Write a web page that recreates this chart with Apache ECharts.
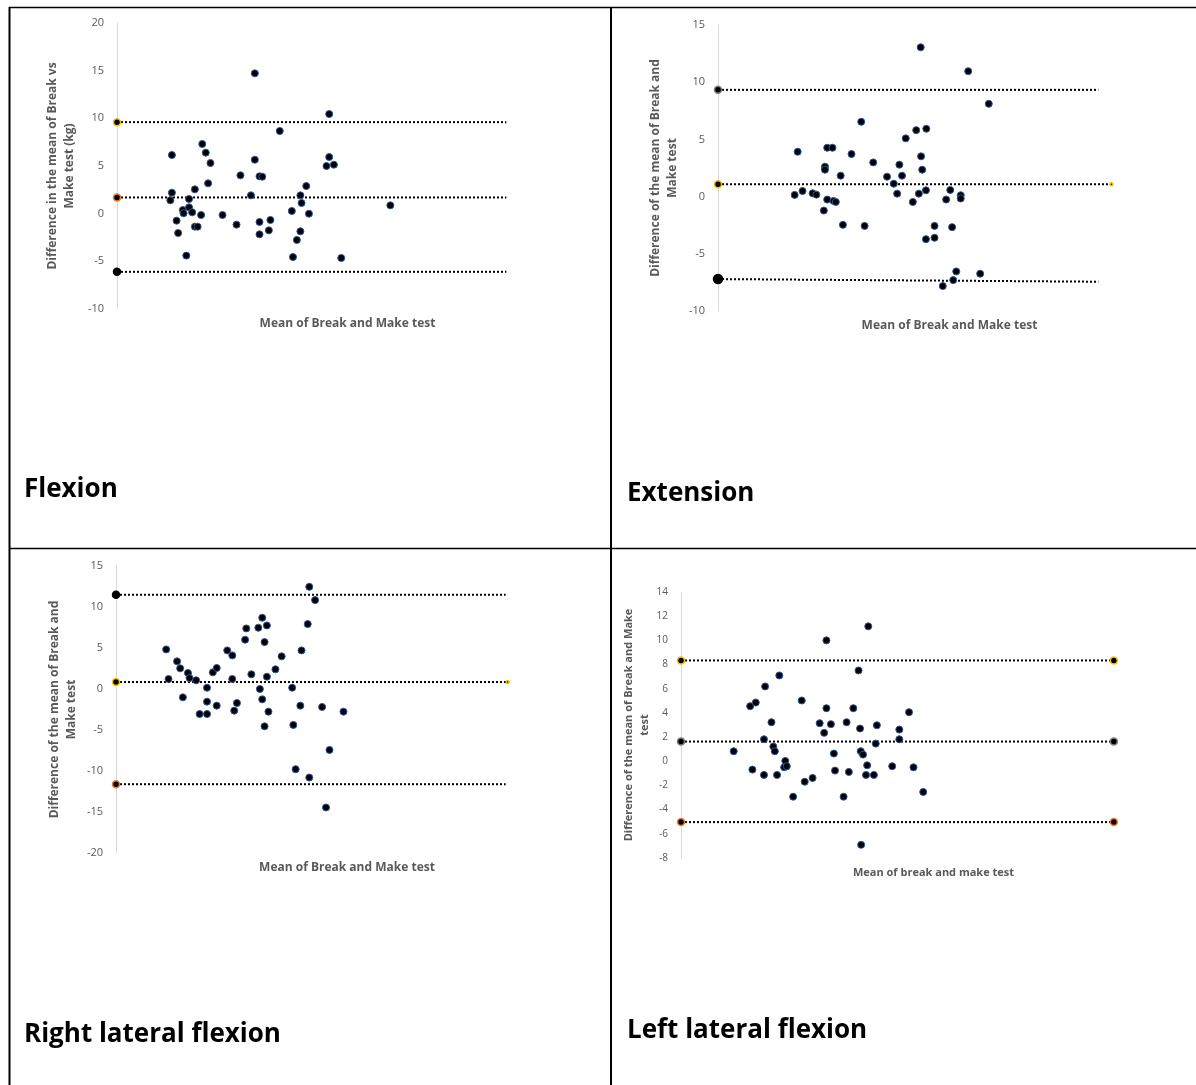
<!DOCTYPE html>
<html>
<head>
<meta charset="utf-8">
<title>Break vs Make test</title>
<script src="https://cdn.jsdelivr.net/npm/echarts@6/dist/echarts.min.js"></script>
<style>
  html, body { margin: 0; padding: 0; background: #fff; }
  #main { width: 1196px; height: 1085px; }
</style>
</head>
<body>
<div id="main"></div>
<script>
// Flexion
var flexionX = [14.1, 14.1, 13.7, 15.3, 15.7, 16.9, 17.1, 17.8, 18.5, 18.5, 19.3, 20, 20, 20.7, 21.6, 21.9, 22.8, 23.4, 24,
    27.1, 30.7, 31.7, 34.4, 35.4, 35.4, 36.6, 37.3, 36.6, 36.6, 39, 39.4, 41.8, 44.9, 45.2, 46.2, 47.1, 47.1, 47.4,
    48.6, 49.3, 53.8, 54.5, 54.5, 55.7, 57.6, 70.2];
var flexionY = [6.15, 2.2, 1.4, -0.73, -2.03, 0.38, 0.05, -4.4, 1.54, 0.66, 0.14, 2.55, -1.36, -1.36, -0.14, 7.31, 6.4, 3.18, 5.31,
    -0.14, -1.15, 4.02, 1.92, 14.72, 5.66, 3.92, 3.88, -0.87, -2.17, -1.75, -0.66, 8.67, 0.28, -4.55, -2.76, 1.92, -1.85, 1.12,
    2.9, 0, 5.0, 10.45, 5.94, 5.14, -4.65, 0.87];
var flexionLimits = [9.6, 1.7, -6.1];

// Extension
var extensionX = [20.5, 21.3, 22.6, 25.3, 26.3, 28.3, 28.6, 28.6, 29.2, 29.2, 30.6, 30.9, 31.5, 32.8, 33.4, 35.7, 38.3, 39.2,
    41.5, 45.2, 47, 47.9, 48.5, 49.2, 50.2, 52.1, 53, 53.7, 54.2, 54.3, 54.6, 55.6, 55.7, 55.6, 57.9, 57.9, 60.1, 61, 62.1,
    62.6, 62.9, 63.7, 64.9, 64.9, 66.9, 70.1, 72.4];
var extensionY = [0.15, 3.92, 0.49, 0.29, 0.17, -1.22, 2.62, 2.35, 4.27, -0.26, 4.27, -0.38, -0.47, 1.83, -2.47, 3.72, 6.54, -2.56,
    2.99, 1.74, 1.13, 0.26, 2.79, 1.83, 5.09, -0.47, 5.81, 0.26, 13.05, 3.52, 2.35, 0.55, 5.93, -3.72, -2.56, -3.6, -7.82, -0.26,
    0.58, -2.67, -7.3, -6.54, 0.12, -0.17, 10.96, -6.74, 8.11];
var extensionLimits = [9.33, 1.08, -7.21];

// Right lateral flexion
var rightX = [12.9, 13.5, 15.7, 16.5, 17.2, 18.5, 18.9, 20.6, 21.5, 23.4, 23.4, 23.4, 24.9, 25.9, 25.9, 28.6, 29.9, 29.9, 30.4,
    31.1, 33.2, 33.5, 34.8, 36.6, 37, 37.6, 37.6, 38.2, 38.8, 38.8, 38.2, 39.2, 41, 42.6, 45.3, 45.6, 46.2, 47.4, 47.7, 49.3,
    49.7, 49.7, 51.2, 53, 54, 54.9, 58.5];
var rightY = [4.83, 1.22, 3.37, 2.52, -1.02, 1.95, 1.34, 1.06, -3.05, 0.16, -1.54, -3.05, 2.03, 2.56, -2.03, 4.71, 4.1, 1.22, -2.64,
    -1.71, 6.01, 7.39, 1.79, 7.47, 0, 8.69, -1.26, 5.72, 7.75, 1.5, -4.55, -2.76, 2.4, 3.98, 0.16, -4.38, -9.78, -2.03, 4.71, 7.92,
    12.46, -10.8, 10.84, -2.19, -14.45, -7.43, -2.76];
var rightLimits = [11.49, 0.85, -11.61];

// Left lateral flexion
var leftX = [14.1, 18.5, 19.1, 20, 22.2, 22.2, 22.5, 24.2, 24.7, 25.1, 25.7, 26.3, 27.9, 27.6, 28.3, 30, 32.3, 33.1, 35.2, 37.1,
    38.3, 38.9, 38.9, 40.1, 40.9, 41.2, 43.5, 44.3, 44.9, 46.1, 47.5, 47.9, 48.1, 48.2, 48.7, 49.5, 49.8, 50.1, 51.6, 52.1, 52.4,
    56.5, 58.4, 58.4, 61, 62.2, 64.8];
var leftY = [0.83, 4.56, -0.69, 4.86, 1.82, -1.13, 6.19, 3.23, 1.22, 0.83, -1.13, 7.1, 0.03, -0.5, -0.41, -2.93, 5.03, -1.69, -1.38,
    3.15, 2.35, 10, 4.39, 3.07, 0.64, -0.77, -2.93, 3.23, -0.88, 4.39, 7.51, 2.71, 0.83, -6.91, 0.55, -1.13, -0.33, 11.16, -1.13,
    1.46, 2.98, -0.41, 2.62, 1.82, 4.06, -0.5, -2.54];
var leftLimits = [8.34, 1.63, -5.03];

var GOLD = '#FFC000', ORANGE = '#ED7D31', BLACK = '#000000', GREY = '#7F7F7F';
var FONT = '"Open Sans", "DejaVu Sans", sans-serif';

// rightDot: size of the marker at the right end of each limit line (0 = none)
var panels = [{
    xs: flexionX, ys: flexionY, limits: flexionLimits,
    ends: [100, 100, 100], endRight: [null, null, null],
    rings: [GOLD, ORANGE, BLACK], rightDot: [0, 0, 0], leftDot: [7, 7, 7],
    yMin: -10, yMax: 20, step: 5, xMax: 118.4,
    yName: 'Difference in the mean of Break vs\nMake test (kg)',
    xName: 'Mean of Break and Make test',
    grid: { left: 117, top: 23, width: 461, height: 286 },
    nameGap: 39, fs: 11, nfs: 12
}, {
    xs: extensionX, ys: extensionY, limits: extensionLimits,
    ends: [101.7, 105.2, 101.7], endRight: [null, null, -7.44],
    rings: [GREY, GOLD, BLACK], rightDot: [0, 3, 0], leftDot: [7, 7, 9],
    yMin: -10, yMax: 15, step: 5, xMax: 123.8,
    yName: 'Difference of the mean of Break and\nMake test',
    xName: 'Mean of Break and Make test',
    grid: { left: 718, top: 25, width: 463, height: 286 },
    nameGap: 37, fs: 11, nfs: 12
}, {
    xs: rightX, ys: rightY, limits: rightLimits,
    ends: [100.2, 100.7, 100.2], endRight: [null, null, null],
    rings: [BLACK, GOLD, ORANGE], rightDot: [0, 3, 0], leftDot: [7, 7, 7],
    yMin: -20, yMax: 15, step: 5, xMax: 118.8,
    yName: 'Difference of the mean of Break and\nMake test',
    xName: 'Mean of Break and Make test',
    grid: { left: 116, top: 566, width: 462, height: 287 },
    nameGap: 36, fs: 11, nfs: 12
}, {
    xs: leftX, ys: leftY, limits: leftLimits,
    ends: [115.8, 115.8, 115.8], endRight: [null, null, null],
    rings: [GOLD, GREY, ORANGE], rightDot: [7, 7, 7], leftDot: [7, 7, 7],
    yMin: -8, yMax: 14, step: 2, xMax: 135.1,
    yName: 'Difference of the mean of Break and Make\ntest',
    xName: 'Mean of break and make test',
    grid: { left: 681, top: 592, width: 505, height: 266 },
    nameGap: 22, fs: 10, nfs: 11
}];

var grids = [], xAxes = [], yAxes = [], series = [];

panels.forEach(function (p, i) {
    grids.push(p.grid);
    xAxes.push({
        type: 'value', gridIndex: i, min: 0, max: p.xMax,
        axisLine: { show: false, onZero: false }, axisTick: { show: false },
        axisLabel: { show: false }, splitLine: { show: false },
        name: p.xName, nameLocation: 'middle', nameGap: 9,
        nameTextStyle: { color: '#595959', fontWeight: 'bold', fontSize: p.nfs, fontFamily: FONT }
    });
    yAxes.push({
        type: 'value', gridIndex: i, min: p.yMin, max: p.yMax, interval: p.step,
        axisLine: { show: true, onZero: false, lineStyle: { color: '#D9D9D9', width: 1 } },
        axisTick: { show: false }, splitLine: { show: false },
        axisLabel: { color: '#595959', fontSize: p.fs, fontFamily: FONT, margin: 13 },
        name: p.yName, nameLocation: 'middle', nameGap: p.nameGap,
        nameTextStyle: { color: '#595959', fontWeight: 'bold', fontSize: p.nfs, fontFamily: FONT, lineHeight: p.nfs + 5 }
    });

    // limits of agreement: dotted lines with Excel-style end markers
    p.limits.forEach(function (v, k) {
        var vr = p.endRight[k] == null ? v : p.endRight[k];
        var right = p.rightDot[k] ? { value: [p.ends[k], vr], symbolSize: p.rightDot[k] }
                                  : { value: [p.ends[k], vr], symbol: 'none' };
        series.push({
            type: 'line', xAxisIndex: i, yAxisIndex: i, clip: false, z: 2,
            symbol: 'circle', symbolSize: 7,
            lineStyle: { color: BLACK, width: 2, type: [2, 2] },
            itemStyle: { color: BLACK, borderColor: p.rings[k], borderWidth: 1.5, opacity: 1 },
            data: [{ value: [0, v], symbolSize: p.leftDot[k] }, right]
        });
    });

    series.push({
        type: 'scatter', xAxisIndex: i, yAxisIndex: i, z: 3,
        symbol: 'circle', symbolSize: 7,
        itemStyle: { color: '#000000', borderColor: '#2F5597', borderWidth: 1, opacity: 1 },
        data: p.xs.map(function (x, j) { return [x, p.ys[j]]; })
    });
});

var captionFont = 'bold 26px "Open Sans", sans-serif';
function rule(x1, y1, x2, y2, w) {
    return { type: 'line', shape: { x1: x1, y1: y1, x2: x2, y2: y2 }, style: { stroke: '#000', lineWidth: w || 1.5 }, z: 10 };
}
function caption(t, x, y) {
    return { type: 'text', x: x, y: y, style: { text: t, font: captionFont, fill: '#000', verticalAlign: 'middle' }, z: 10 };
}

var myChart = echarts.init(document.getElementById('main'));
myChart.setOption({
    animation: false,
    backgroundColor: '#fff',
    grid: grids,
    xAxis: xAxes,
    yAxis: yAxes,
    series: series,
    graphic: [
        rule(9, 7.5, 1196, 7.5),
        rule(9.5, 7, 9.5, 1085, 2),
        rule(611, 7, 611, 1085, 2),
        rule(9, 548.5, 1196, 548.5),
        caption('Flexion', 24, 490),
        caption('Extension', 627, 494),
        caption('Right lateral flexion', 24, 1035),
        caption('Left lateral flexion', 627, 1031)
    ]
});
</script>
</body>
</html>
